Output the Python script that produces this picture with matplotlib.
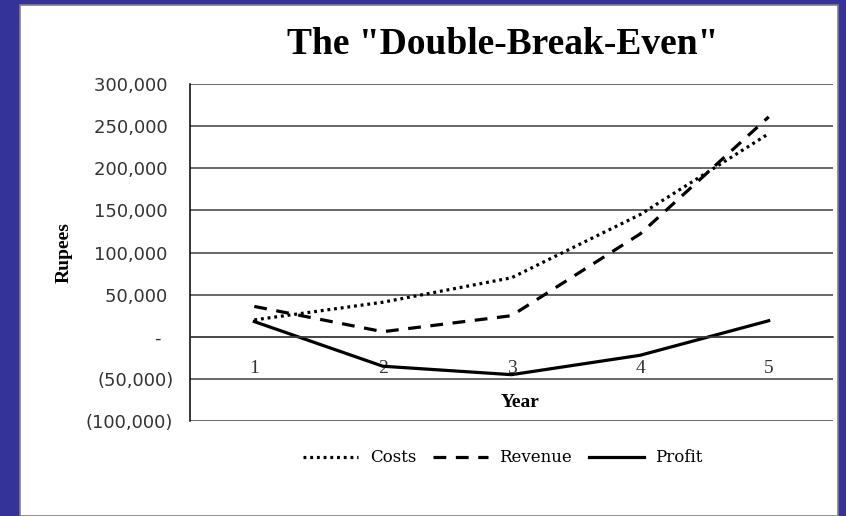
import matplotlib.pyplot as plt
from matplotlib.patches import Rectangle
from matplotlib.ticker import FuncFormatter

years = [1, 2, 3, 4, 5]
costs = [20000, 41000, 70000, 145000, 241000]
revenue = [36000, 6000, 25000, 122000, 261000]
profit = [18000, -35000, -45000, -22000, 19000]

y_ticks = [-100000, -50000, 0, 50000, 100000, 150000, 200000, 250000, 300000]


def rupees(v, pos):
    if v == 0:
        return "-  "
    if v < 0:
        return "({:,.0f})".format(-v)
    return "{:,.0f} ".format(v)


def main():
    fig = plt.figure(figsize=(8.46, 5.16), dpi=100, facecolor='#333399')
    # white panel with thin grey border
    fig.patches.append(Rectangle((20 / 846, 0), 818 / 846, 511 / 516, transform=fig.transFigure,
                                 facecolor='white', edgecolor='#808080', linewidth=1.2, zorder=-5))

    ax = fig.add_axes([190 / 846, 1 - 421 / 516, 643 / 846, 337 / 516])
    ax.set_zorder(2)
    ax.set_facecolor('none')
    ax.set_xlim(0.5, 5.5)
    ax.set_ylim(-100000, 300000)

    ax.plot(years, costs, color='black', lw=2.3, linestyle=(0, (0.9, 1.2)), label="Costs")
    ax.plot(years, revenue, color='black', lw=2.3, linestyle=(0, (4, 3)), label="Revenue")
    ax.plot(years, profit, color='black', lw=2.3, linestyle='-', label="Profit")

    ax.set_yticks(y_ticks)
    ax.yaxis.set_major_formatter(FuncFormatter(rupees))
    ax.grid(axis='y', color='#404040', linewidth=1.1)
    ax.set_axisbelow(True)
    ax.tick_params(axis='y', length=0, pad=12)

    ax.set_xticks(years)
    ax.set_xticklabels([str(y) for y in years])
    ax.tick_params(axis='x', length=0, pad=17)
    ax.spines['bottom'].set_position(('data', 0))
    ax.spines['bottom'].set_color('#404040')
    ax.spines['bottom'].set_linewidth(1.1)
    ax.spines['top'].set_visible(False)
    ax.spines['right'].set_visible(False)
    ax.spines['left'].set_color('black')
    ax.spines['left'].set_linewidth(1.1)

    for t in ax.get_yticklabels():
        t.set_fontfamily('DejaVu Sans')
        t.set_fontsize(13)
        t.set_color('#333333')
    for t in ax.get_xticklabels():
        t.set_fontfamily('Liberation Serif')
        t.set_fontsize(14)
        t.set_color('#333333')

    ax.text(0.513, 0.056, "Year", transform=ax.transAxes, ha='center', va='center',
            fontfamily='Liberation Serif', fontweight='bold', fontsize=14)
    fig.text(64 / 846, 1 - 253 / 516, "Rupees", rotation=90, ha='center', va='center',
             fontfamily='Liberation Serif', fontweight='bold', fontsize=14)
    fig.text(503 / 846, 1 - 45 / 516, 'The "Double-Break-Even"', ha='center', va='center',
             fontfamily='Liberation Serif', fontweight='bold', fontsize=27)

    fig.legend(loc='center', bbox_to_anchor=(503 / 846, 1 - 458 / 516), ncol=3, frameon=False,
               prop={'family': 'DejaVu Serif', 'size': 12}, handlelength=3.3, columnspacing=1.0,
               handletextpad=0.7)

    plt.savefig("out.png", dpi=100, facecolor=fig.get_facecolor())


if __name__ == "__main__":
    main()
